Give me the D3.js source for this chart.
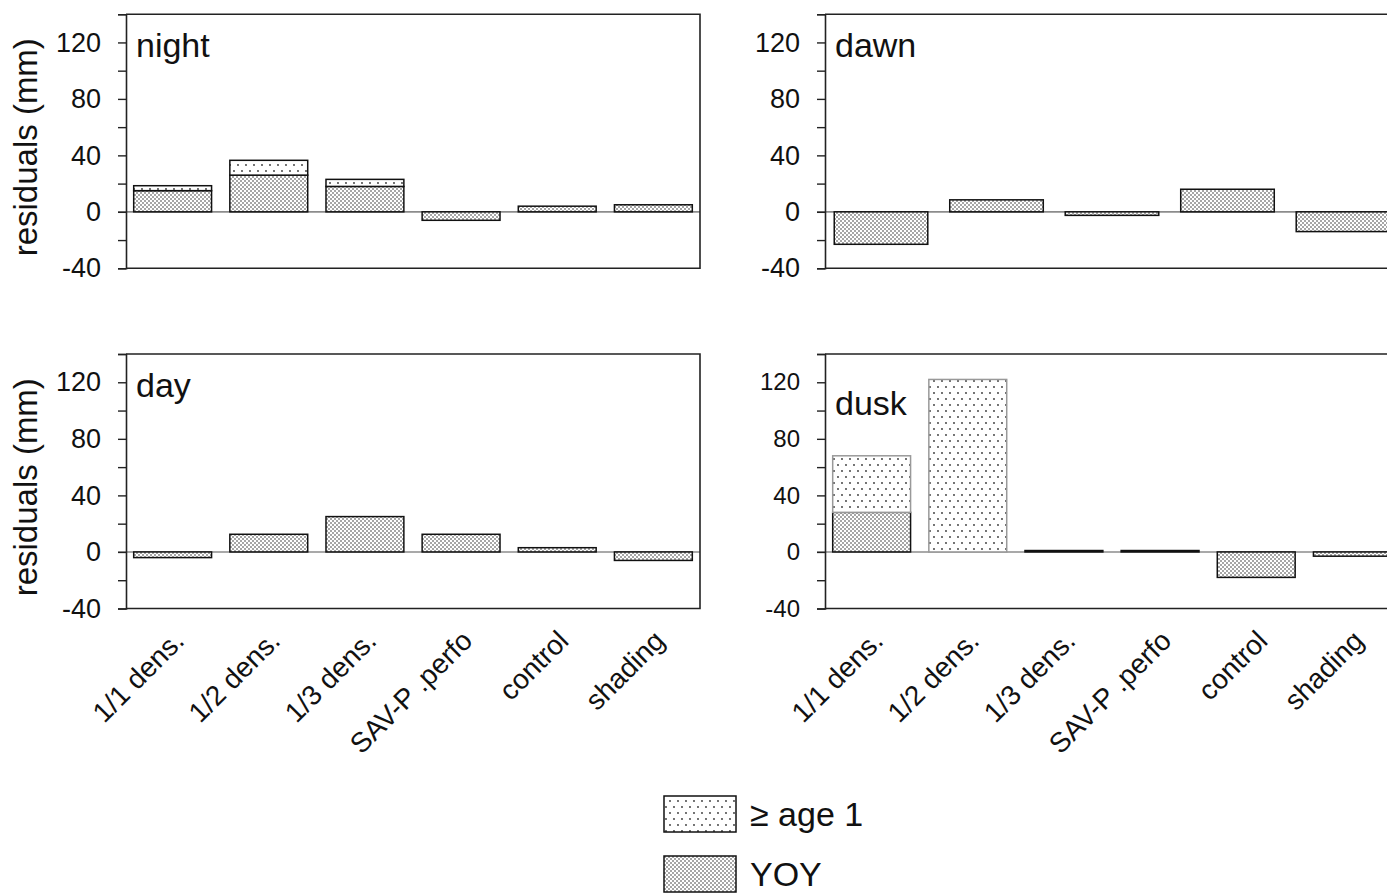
<!DOCTYPE html>
<html>
<head>
<meta charset="utf-8">
<script src="https://cdn.jsdelivr.net/npm/d3@7"></script>
<style>
  html, body { margin: 0; padding: 0; background: #fff; }
  svg text { font-family: "Liberation Sans", Arial, sans-serif; fill: #111; }
</style>
</head>
<body>
<svg id="chart" width="1387" height="894"></svg>
<script>
// ---- data ----
const categories = ["1/1 dens.", "1/2 dens.", "1/3 dens.", "SAV-P .perfo", "control", "shading"];
const dawnCategories = ["1/1 dens.", "1/2 dens.", "1/3 dens.", "SAV-P .perfo", "control"];
const seriesNames = ["\u2265 age 1", "YOY"];
const yTicks = [-40, -20, 0, 20, 40, 60, 80, 100, 120, 140];
const yTickLabels = [-40, 0, 40, 80, 120];

const nightYOY  = [15, 26, 18, -6, 4, 5];
const nightAge1 = [3.5, 10.5, 5, 0, 0, 0];
const dawnYOY   = [-23, 8.5, -2.5, 16, -14];
const dawnAge1  = [0, 0, 0, 0, 0];
const dayYOY    = [-4, 12.5, 25, 12.5, 3, -6];
const dayAge1   = [0, 0, 0, 0, 0, 0];
const duskYOY   = [28, 0, 1, 1, -18, -3];
const duskAge1  = [40, 122, 0, 0, 0, 0];

// ---- chart ----
const svg = d3.select("#chart");
const defs = svg.append("defs");

// dense stipple for YOY
const pYOY = defs.append("pattern").attr("id", "patYOY")
  .attr("patternUnits", "userSpaceOnUse").attr("width", 4).attr("height", 4);
pYOY.append("rect").attr("width", 4).attr("height", 4).attr("fill", "#fff");
pYOY.append("circle").attr("cx", 1).attr("cy", 1).attr("r", 0.75).attr("fill", "#222");
pYOY.append("circle").attr("cx", 3).attr("cy", 3).attr("r", 0.75).attr("fill", "#222");

// sparse dots for >= age 1
const pA = defs.append("pattern").attr("id", "patAge1")
  .attr("patternUnits", "userSpaceOnUse").attr("width", 8).attr("height", 12);
pA.append("rect").attr("width", 8).attr("height", 12).attr("fill", "#fff");
pA.append("circle").attr("cx", 2).attr("cy", 3).attr("r", 0.9).attr("fill", "#333");
pA.append("circle").attr("cx", 6).attr("cy", 9).attr("r", 0.9).attr("fill", "#333");

const panels = [
  { label: "night", cats: categories, yoy: nightYOY, age1: nightAge1, left: 126, top: 14.2, bottom: 268.3, tickFont: 27, xlabels: false, age1Stroke: "#111" },
  { label: "dawn",  cats: dawnCategories, yoy: dawnYOY, age1: dawnAge1, left: 825, top: 14.2, bottom: 268.3, tickFont: 27, xlabels: false, age1Stroke: "#111" },
  { label: "day",   cats: categories, yoy: dayYOY, age1: dayAge1, left: 126, top: 354, bottom: 608.5, tickFont: 27, xlabels: true, age1Stroke: "#111" },
  { label: "dusk",  cats: categories, yoy: duskYOY, age1: duskAge1, left: 825, top: 354, bottom: 608.5, tickFont: 24, xlabels: true, age1Stroke: "#999", labelDy: 18 }
];
const panelWidth = 574;

panels.forEach((p) => {
  const g = svg.append("g");
  const x = d3.scaleBand().domain(p.cats).range([p.left, p.left + panelWidth])
    .paddingInner(0.19).paddingOuter(0.08);
  const y = d3.scaleLinear().domain([-40, 140]).range([p.bottom, p.top]);

  // zero line
  g.append("line")
    .attr("x1", p.left - 8).attr("x2", p.left + panelWidth)
    .attr("y1", y(0)).attr("y2", y(0))
    .attr("stroke", "#8c8c8c").attr("stroke-width", 1.6);

  // stacked bars
  const rows = p.cats.map((c, i) => ({ cat: c, yoy: p.yoy[i], age1: p.age1[i] }));
  const stack = d3.stack().keys(["yoy", "age1"]).offset(d3.stackOffsetDiverging)(rows);
  stack.forEach(layer => {
    const isYOY = layer.key === "yoy";
    g.selectAll(null).data(layer.filter(d => d[1] !== d[0]))
      .enter().append("rect")
      .attr("x", d => x(d.data.cat))
      .attr("width", x.bandwidth())
      .attr("y", d => y(Math.max(d[0], d[1])))
      .attr("height", d => Math.abs(y(d[0]) - y(d[1])))
      .attr("fill", isYOY ? "url(#patYOY)" : "url(#patAge1)")
      .attr("stroke", isYOY ? "#111" : p.age1Stroke)
      .attr("stroke-width", 1.5);
  });

  // left axis
  const axis = d3.axisLeft(y).tickValues(yTicks).tickSize(8).tickPadding(17)
    .tickFormat(v => yTickLabels.includes(v) ? String(v) : "");
  const ag = g.append("g").attr("transform", `translate(${p.left},0)`).call(axis);
  ag.select(".domain").attr("stroke", "#222").attr("stroke-width", 1.6);
  ag.selectAll(".tick line").attr("stroke", "#222").attr("stroke-width", 1.4);
  ag.selectAll(".tick text").attr("font-size", p.tickFont).attr("fill", "#111")
    .attr("font-family", "Liberation Sans, Arial, sans-serif");

  // frame: top, right, bottom
  g.append("path")
    .attr("d", `M${p.left},${y(140)}H${p.left + panelWidth}V${y(-40)}H${p.left}`)
    .attr("fill", "none").attr("stroke", "#222").attr("stroke-width", 1.6);

  // panel label
  g.append("text").attr("x", p.left + 10).attr("y", y(120) + 15 + (p.labelDy || 0))
    .attr("font-size", 34).text(p.label);

  // y title for left column
  if (p.left < 400) {
    g.append("text")
      .attr("transform", `translate(37,${(p.top + p.bottom) / 2 + 6}) rotate(-90)`)
      .attr("text-anchor", "middle").attr("font-size", 33)
      .text("residuals (mm)");
  }

  // x labels
  if (p.xlabels) {
    p.cats.forEach(c => {
      g.append("text")
        .attr("transform", `translate(${x(c) + x.bandwidth() / 2 + 13},${p.bottom + 34}) rotate(-45)`)
        .attr("text-anchor", "end").attr("font-size", 28)
        .text(c);
    });
  }
});

// legend
const legend = svg.append("g");
const legendItems = [
  { name: seriesNames[0], fill: "url(#patAge1)", y: 796 },
  { name: seriesNames[1], fill: "url(#patYOY)", y: 856 }
];
legendItems.forEach(it => {
  legend.append("rect").attr("x", 664).attr("y", it.y).attr("width", 72).attr("height", 36)
    .attr("fill", it.fill).attr("stroke", "#111").attr("stroke-width", 1.5);
  legend.append("text").attr("x", 750).attr("y", it.y + 30).attr("font-size", 34).text(it.name);
});
</script>
</body>
</html>
